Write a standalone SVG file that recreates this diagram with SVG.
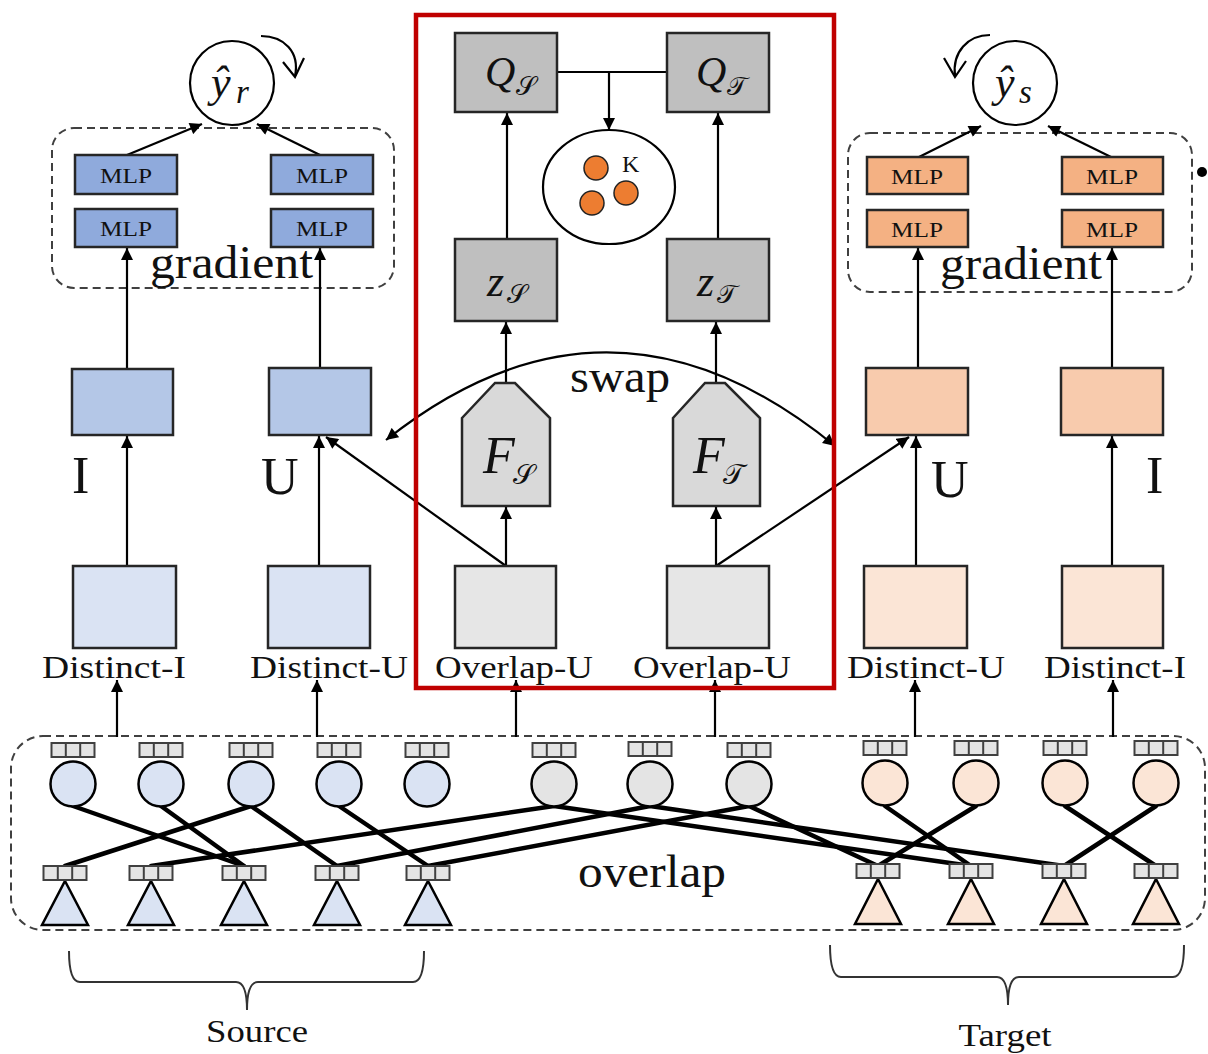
<svg xmlns="http://www.w3.org/2000/svg" width="1208" height="1054" viewBox="0 0 1208 1054">
  <defs>
    <marker id="ah" viewBox="0 0 10 10" refX="10" refY="5" markerWidth="13" markerHeight="12" markerUnits="userSpaceOnUse" orient="auto-start-reverse">
      <path d="M0,0 L10,5 L0,10 z" fill="#000"/>
    </marker>
    <!-- three-cell feature strip -->
    <g id="strip">
      <rect x="-21.5" y="0" width="43" height="14" fill="#e4e4e4" stroke="#404040" stroke-width="2"/>
      <line x1="-7.2" y1="0" x2="-7.2" y2="14" stroke="#404040" stroke-width="2"/>
      <line x1="7.2" y1="0" x2="7.2" y2="14" stroke="#404040" stroke-width="2"/>
    </g>
  </defs>
  <style>
    text { font-family: "Liberation Serif", "Times New Roman", serif; fill: #111; }
    .box { stroke: #262626; stroke-width: 2.5; }
    .mlpb { fill: #8faadc; stroke: #262626; stroke-width: 2.5; }
    .mlpo { fill: #f4b183; stroke: #262626; stroke-width: 2.5; }
    .mlp { font-size: 22px; text-anchor: middle; }
    .dash { fill: none; stroke: #404040; stroke-width: 2; stroke-dasharray: 8 5; }
    .arr { stroke: #000; stroke-width: 2.2; fill: none; marker-end: url(#ah); }
    .ln { stroke: #000; stroke-width: 2.2; fill: none; }
    .edge { stroke: #000; stroke-width: 4.5; stroke-linecap: round; }
    .big { font-size: 46px; }
    .lab { font-size: 31px; text-anchor: middle; }
    .it { font-style: italic; }
    .cal { font-family: "DejaVu Serif", "DejaVu Sans", "Noto Sans", serif; font-style: normal; }
  </style>

  <!-- dashed groupings -->
  <rect class="dash" x="52" y="128" width="342" height="160" rx="22"/>
  <rect class="dash" x="848" y="133" width="344" height="159" rx="22"/>
  <rect class="dash" x="11" y="736" width="1194" height="194" rx="32"/>

  <!-- connectors -->
  <g id="connectors">
    <!-- prediction heads -->
    <line class="arr" x1="127" y1="155" x2="202" y2="124"/>
    <line class="arr" x1="320" y1="155" x2="257" y2="124"/>
    <line class="arr" x1="919" y1="157" x2="981" y2="126"/>
    <line class="arr" x1="1111" y1="157" x2="1048" y2="126"/>
    <!-- rotation hints -->
    <path class="ln" d="M261,36 C284,36 300,52 295,76"/>
    <path class="ln" d="M283,62 L295,77 L304,58"/>
    <path class="ln" d="M990,35 C968,35 952,52 955,76"/>
    <path class="ln" d="M944,58 L955,77 L966,61"/>
    <!-- embeddings into MLP towers -->
    <line class="arr" x1="127" y1="369" x2="127" y2="248"/>
    <line class="arr" x1="320" y1="368" x2="320" y2="248"/>
    <line class="arr" x1="918" y1="368" x2="918" y2="248"/>
    <line class="arr" x1="1112" y1="368" x2="1112" y2="248"/>
    <!-- distinct boxes into embeddings -->
    <line class="arr" x1="127" y1="566" x2="127" y2="436"/>
    <line class="arr" x1="319" y1="566" x2="319" y2="436"/>
    <line class="arr" x1="916" y1="566" x2="916" y2="436"/>
    <line class="arr" x1="1112" y1="566" x2="1112" y2="436"/>
    <!-- overlap users -->
    <line class="arr" x1="506" y1="566" x2="506" y2="507"/>
    <line class="arr" x1="716" y1="566" x2="716" y2="507"/>
    <line class="arr" x1="506" y1="566" x2="326" y2="437"/>
    <line class="arr" x1="716" y1="566" x2="909" y2="437"/>
    <!-- encoders to latents to prototypes -->
    <line class="arr" x1="506" y1="383" x2="506" y2="322"/>
    <line class="arr" x1="716" y1="383" x2="716" y2="322"/>
    <line class="arr" x1="507" y1="239" x2="507" y2="113"/>
    <line class="arr" x1="718" y1="239" x2="718" y2="113"/>
    <line class="ln" x1="557" y1="72" x2="667" y2="72"/>
    <line class="arr" x1="609" y1="72" x2="609" y2="130"/>
    <!-- swap -->
    <path class="ln" d="M386,440 Q610,262 835,446" marker-start="url(#ah)" marker-end="url(#ah)"/>
    <!-- graph to domain boxes -->
    <line class="arr" x1="117" y1="737" x2="117" y2="680"/>
    <line class="arr" x1="317" y1="737" x2="317" y2="680"/>
    <line class="arr" x1="516" y1="737" x2="516" y2="680"/>
    <line class="arr" x1="715" y1="737" x2="715" y2="680"/>
    <line class="arr" x1="915" y1="737" x2="915" y2="680"/>
    <line class="arr" x1="1113" y1="737" x2="1113" y2="680"/>
    <!-- interaction edges -->
    <line class="edge" x1="73" y1="806" x2="244" y2="866"/>
    <line class="edge" x1="161" y1="806" x2="244" y2="866"/>
    <line class="edge" x1="251" y1="806" x2="65" y2="866"/>
    <line class="edge" x1="251" y1="806" x2="337" y2="866"/>
    <line class="edge" x1="339" y1="806" x2="428" y2="866"/>
    <line class="edge" x1="554" y1="806" x2="151" y2="866"/>
    <line class="edge" x1="650" y1="806" x2="337" y2="866"/>
    <line class="edge" x1="749" y1="806" x2="428" y2="866"/>
    <line class="edge" x1="554" y1="806" x2="971" y2="866"/>
    <line class="edge" x1="650" y1="806" x2="1064" y2="866"/>
    <line class="edge" x1="749" y1="806" x2="878" y2="866"/>
    <line class="edge" x1="885" y1="806" x2="971" y2="866"/>
    <line class="edge" x1="976" y1="806" x2="878" y2="866"/>
    <line class="edge" x1="1065" y1="806" x2="1156" y2="866"/>
    <line class="edge" x1="1156" y1="806" x2="1064" y2="866"/>
  </g>

  <!-- source-side prediction -->
  <g id="pred-r">
    <circle cx="232" cy="83" r="42" fill="#fff" stroke="#000" stroke-width="2.2"/>
    <text class="it" x="211" y="97" font-size="44">ŷ</text>
    <text class="it" x="236" y="103" font-size="33">r</text>
  </g>
  <g id="pred-s">
    <circle cx="1015" cy="83" r="42" fill="#fff" stroke="#000" stroke-width="2.2"/>
    <text class="it" x="995" y="97" font-size="44">ŷ</text>
    <text class="it" x="1019" y="103" font-size="33">s</text>
  </g>

  <!-- MLP towers -->
  <g id="mlp-src">
    <rect class="mlpb" x="75" y="155" width="102" height="39"/>
    <rect class="mlpb" x="75" y="209" width="102" height="38"/>
    <rect class="mlpb" x="271" y="155" width="102" height="39"/>
    <rect class="mlpb" x="271" y="209" width="102" height="38"/>
    <text class="mlp" x="126" y="183" textLength="52" lengthAdjust="spacingAndGlyphs">MLP</text>
    <text class="mlp" x="126" y="236" textLength="52" lengthAdjust="spacingAndGlyphs">MLP</text>
    <text class="mlp" x="322" y="183" textLength="52" lengthAdjust="spacingAndGlyphs">MLP</text>
    <text class="mlp" x="322" y="236" textLength="52" lengthAdjust="spacingAndGlyphs">MLP</text>
    <text class="big" x="150" y="278" textLength="163" lengthAdjust="spacingAndGlyphs">gradient</text>
  </g>
  <g id="mlp-tgt">
    <rect class="mlpo" x="867" y="157" width="101" height="37"/>
    <rect class="mlpo" x="867" y="210" width="101" height="37"/>
    <rect class="mlpo" x="1062" y="157" width="101" height="37"/>
    <rect class="mlpo" x="1062" y="210" width="101" height="37"/>
    <text class="mlp" x="917" y="184" textLength="52" lengthAdjust="spacingAndGlyphs">MLP</text>
    <text class="mlp" x="917" y="237" textLength="52" lengthAdjust="spacingAndGlyphs">MLP</text>
    <text class="mlp" x="1112" y="184" textLength="52" lengthAdjust="spacingAndGlyphs">MLP</text>
    <text class="mlp" x="1112" y="237" textLength="52" lengthAdjust="spacingAndGlyphs">MLP</text>
    <text class="big" x="940" y="279" textLength="162" lengthAdjust="spacingAndGlyphs">gradient</text>
  </g>
  <circle cx="1202" cy="172" r="5" fill="#000"/>

  <!-- embedding boxes -->
  <g id="emb-src-i"><rect class="box" x="72" y="369" width="101" height="66" fill="#b4c7e7"/></g>
  <g id="emb-src-u"><rect class="box" x="269" y="368" width="102" height="67" fill="#b4c7e7"/></g>
  <g id="emb-tgt-u"><rect class="box" x="866" y="368" width="102" height="67" fill="#f8cbad"/></g>
  <g id="emb-tgt-i"><rect class="box" x="1061" y="368" width="102" height="67" fill="#f8cbad"/></g>
  <text x="72" y="493" font-size="52">I</text>
  <text x="261" y="494" font-size="52">U</text>
  <text x="931" y="497" font-size="52">U</text>
  <text x="1146" y="493" font-size="52">I</text>

  <!-- prototype / latent modules -->
  <g id="q-s">
    <rect class="box" x="455" y="33" width="102" height="79" fill="#bfbfbf"/>
    <text class="it" x="485" y="86" font-size="42">Q</text>
    <text class="cal" x="516" y="95" font-size="26">𝒮</text>
  </g>
  <g id="q-t">
    <rect class="box" x="667" y="33" width="102" height="79" fill="#bfbfbf"/>
    <text class="it" x="696" y="86" font-size="42">Q</text>
    <text class="cal" x="727" y="95" font-size="26">𝒯</text>
  </g>
  <g id="proto">
    <ellipse cx="609" cy="187" rx="66" ry="57" fill="#fff" stroke="#000" stroke-width="2.2"/>
    <circle cx="596" cy="168" r="12" fill="#ed7d31" stroke="#222" stroke-width="1.5"/>
    <circle cx="592" cy="203" r="12" fill="#ed7d31" stroke="#222" stroke-width="1.5"/>
    <circle cx="626" cy="193" r="12" fill="#ed7d31" stroke="#222" stroke-width="1.5"/>
    <text x="622" y="172" font-size="24">K</text>
  </g>
  <g id="z-s">
    <rect class="box" x="455" y="239" width="102" height="82" fill="#bfbfbf"/>
    <text class="it" x="487" y="296" font-size="44">z</text>
    <text class="cal" x="507" y="303" font-size="26">𝒮</text>
  </g>
  <g id="z-t">
    <rect class="box" x="667" y="239" width="102" height="82" fill="#bfbfbf"/>
    <text class="it" x="697" y="296" font-size="44">z</text>
    <text class="cal" x="717" y="303" font-size="26">𝒯</text>
  </g>
  <g id="f-s">
    <path class="box" d="M462,418 L495,383 L515,383 L550,418 L550,506 L462,506 Z" fill="#d9d9d9"/>
    <text class="it" x="483" y="473" font-size="52">F</text>
    <text class="cal" x="513" y="484" font-size="28">𝒮</text>
  </g>
  <g id="f-t">
    <path class="box" d="M673,418 L705,383 L725,383 L760,418 L760,506 L673,506 Z" fill="#d9d9d9"/>
    <text class="it" x="693" y="473" font-size="52">F</text>
    <text class="cal" x="723" y="484" font-size="28">𝒯</text>
  </g>
  <text x="570" y="392" font-size="46" textLength="100" lengthAdjust="spacingAndGlyphs">swap</text>

  <!-- domain-specific boxes -->
  <g id="distinct-i-src">
    <rect class="box" x="73" y="566" width="103" height="82" fill="#dae3f3"/>
    <text class="lab" x="114" y="678" textLength="144" lengthAdjust="spacingAndGlyphs">Distinct-I</text>
  </g>
  <g id="distinct-u-src">
    <rect class="box" x="268" y="566" width="102" height="82" fill="#dae3f3"/>
    <text class="lab" x="329" y="678" textLength="158" lengthAdjust="spacingAndGlyphs">Distinct-U</text>
  </g>
  <g id="overlap-u-src">
    <rect class="box" x="455" y="566" width="101" height="82" fill="#e6e6e6"/>
    <text class="lab" x="514" y="678" textLength="158" lengthAdjust="spacingAndGlyphs">Overlap-U</text>
  </g>
  <g id="overlap-u-tgt">
    <rect class="box" x="667" y="566" width="102" height="82" fill="#e6e6e6"/>
    <text class="lab" x="712" y="678" textLength="158" lengthAdjust="spacingAndGlyphs">Overlap-U</text>
  </g>
  <g id="distinct-u-tgt">
    <rect class="box" x="864" y="566" width="103" height="82" fill="#fbe5d6"/>
    <text class="lab" x="926" y="678" textLength="158" lengthAdjust="spacingAndGlyphs">Distinct-U</text>
  </g>
  <g id="distinct-i-tgt">
    <rect class="box" x="1062" y="566" width="101" height="82" fill="#fbe5d6"/>
    <text class="lab" x="1115" y="678" textLength="142" lengthAdjust="spacingAndGlyphs">Distinct-I</text>
  </g>

  <!-- highlighted module -->
  <rect x="416" y="15" width="418" height="673" fill="none" stroke="#c00000" stroke-width="4.5"/>

  <!-- user nodes -->
  <g id="users" stroke="#000" stroke-width="2.5">
    <circle cx="73" cy="784" r="22.5" fill="#dae3f3"/>
    <circle cx="161" cy="784" r="22.5" fill="#dae3f3"/>
    <circle cx="251" cy="784" r="22.5" fill="#dae3f3"/>
    <circle cx="339" cy="784" r="22.5" fill="#dae3f3"/>
    <circle cx="427" cy="784" r="22.5" fill="#dae3f3"/>
    <circle cx="554" cy="784" r="22.5" fill="#e4e4e4"/>
    <circle cx="650" cy="784" r="22.5" fill="#e4e4e4"/>
    <circle cx="749" cy="784" r="22.5" fill="#e4e4e4"/>
    <circle cx="885" cy="783" r="22.5" fill="#fbe5d6"/>
    <circle cx="976" cy="783" r="22.5" fill="#fbe5d6"/>
    <circle cx="1065" cy="783" r="22.5" fill="#fbe5d6"/>
    <circle cx="1156" cy="783" r="22.5" fill="#fbe5d6"/>
  </g>
  <g id="user-strips">
    <use href="#strip" x="73" y="743"/>
    <use href="#strip" x="161" y="743"/>
    <use href="#strip" x="251" y="743"/>
    <use href="#strip" x="339" y="743"/>
    <use href="#strip" x="427" y="743"/>
    <use href="#strip" x="554" y="743"/>
    <use href="#strip" x="650" y="742"/>
    <use href="#strip" x="749" y="743"/>
    <use href="#strip" x="885" y="741"/>
    <use href="#strip" x="976" y="741"/>
    <use href="#strip" x="1065" y="741"/>
    <use href="#strip" x="1156" y="741"/>
  </g>

  <!-- item nodes -->
  <g id="items" stroke="#000" stroke-width="2.5">
    <path d="M65,881 L88,925 L42,925 Z" fill="#dae3f3"/>
    <path d="M151,881 L174,925 L128,925 Z" fill="#dae3f3"/>
    <path d="M244,881 L267,925 L221,925 Z" fill="#dae3f3"/>
    <path d="M337,881 L360,925 L314,925 Z" fill="#dae3f3"/>
    <path d="M428,881 L451,925 L405,925 Z" fill="#dae3f3"/>
    <path d="M878,879 L901,924 L855,924 Z" fill="#fbe5d6"/>
    <path d="M971,879 L994,924 L948,924 Z" fill="#fbe5d6"/>
    <path d="M1064,879 L1087,924 L1041,924 Z" fill="#fbe5d6"/>
    <path d="M1156,879 L1179,924 L1133,924 Z" fill="#fbe5d6"/>
  </g>
  <g id="item-strips">
    <use href="#strip" x="65" y="866"/>
    <use href="#strip" x="151" y="866"/>
    <use href="#strip" x="244" y="866"/>
    <use href="#strip" x="337" y="866"/>
    <use href="#strip" x="428" y="866"/>
    <use href="#strip" x="878" y="864"/>
    <use href="#strip" x="971" y="864"/>
    <use href="#strip" x="1064" y="864"/>
    <use href="#strip" x="1156" y="864"/>
  </g>
  <text x="578" y="887" font-size="46" textLength="148" lengthAdjust="spacingAndGlyphs">overlap</text>

  <!-- domain braces -->
  <g id="source-brace">
    <path d="M69,951 Q69,982 80,982 L236,982 Q247,982 247,1010 Q247,982 258,982 L413,982 Q424,982 424,951" fill="none" stroke="#333" stroke-width="2"/>
    <text x="257" y="1042" font-size="31" text-anchor="middle" textLength="102" lengthAdjust="spacingAndGlyphs">Source</text>
  </g>
  <g id="target-brace">
    <path d="M830,945 Q830,977 841,977 L997,977 Q1008,977 1008,1005 Q1008,977 1019,977 L1173,977 Q1184,977 1184,945" fill="none" stroke="#333" stroke-width="2"/>
    <text x="1005" y="1046" font-size="31" text-anchor="middle" textLength="93" lengthAdjust="spacingAndGlyphs">Target</text>
  </g>
</svg>
